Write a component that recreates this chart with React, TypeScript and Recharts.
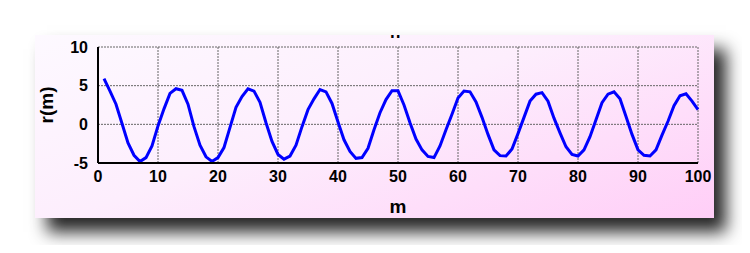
import { LineChart, Line, XAxis, YAxis, CartesianGrid } from "recharts";

// r(m) values, m = 1..100
const mValues = Array.from({ length: 100 }, (_, i) => i + 1);
const rValues = [
  5.9, 4.3, 2.6, 0.1, -2.4, -4.0, -4.8, -4.3, -2.8, -0.2,
  2.0, 4.0, 4.6, 4.4, 2.6, -0.3, -2.7, -4.2, -4.8, -4.3,
  -3.0, -0.4, 2.2, 3.6, 4.6, 4.3, 2.85, 0.2, -2.2, -3.9,
  -4.5, -4.1, -2.7, -0.3, 1.9, 3.3, 4.5, 4.2, 2.7, 0.3,
  -2.0, -3.5, -4.4, -4.3, -3.1, -0.7, 1.5, 3.2, 4.35, 4.35,
  2.5, 0.2, -1.9, -3.3, -4.15, -4.3, -2.8, -0.7, 1.3, 3.4,
  4.3, 4.2, 2.9, 0.9, -1.3, -3.3, -4.05, -4.1, -3.2, -1.2,
  0.9, 3.0, 3.9, 4.1, 3.0, 0.8, -1.1, -2.9, -3.9, -4.1,
  -3.3, -1.6, 0.6, 2.8, 3.9, 4.2, 3.3, 1.0, -1.3, -3.3,
  -4.0, -4.1, -3.3, -1.4, 0.4, 2.4, 3.7, 3.95, 3.0, 1.9,
];
const xTicks = [0, 10, 20, 30, 40, 50, 60, 70, 80, 90, 100];
const yTicks = [-5, 0, 5, 10];

const data = mValues.map((m, i) => ({ m, r: rValues[i] }));

const tickStyle = {
  fill: "#000",
  fontSize: 16,
  fontWeight: 700,
  fontFamily: "Liberation Sans, Arial, sans-serif",
};

export default function App() {
  return (
    <div style={{ position: "relative", width: 750, height: 253, margin: -8, background: "#fff" }}>
      <div
        style={{
          position: "absolute",
          left: 35,
          top: 35,
          width: 679,
          height: 183,
          overflow: "hidden",
          background: "linear-gradient(160deg, #fdf9ff 0%, #fdeefd 45%, #ffcef7 100%)",
          boxShadow: "12px 14px 16px rgba(0,0,0,0.85)",
        }}
      >
        <div
          style={{
            position: "absolute",
            left: 355,
            top: -12,
            fontFamily: "Liberation Sans, Arial, sans-serif",
            fontWeight: 700,
            fontSize: 17,
          }}
        >
          n
        </div>
        <LineChart
          width={679}
          height={183}
          data={data}
          margin={{ top: 12, right: 16, bottom: 25, left: 20 }}
        >
          <CartesianGrid stroke="#666" strokeDasharray="2 1" strokeWidth={1} />
          <XAxis
            dataKey="m"
            type="number"
            domain={[0, 100]}
            ticks={xTicks}
            tickLine={false}
            axisLine={{ stroke: "#000", strokeWidth: 2 }}
            tick={tickStyle}
            tickMargin={2}
            height={30}
            label={{
              value: "m",
              position: "insideBottom",
              offset: -20,
              style: { ...tickStyle, fontSize: 19 },
            }}
          />
          <XAxis
            xAxisId="top"
            orientation="top"
            dataKey="m"
            type="number"
            domain={[0, 100]}
            tick={false}
            tickLine={false}
            height={0}
            axisLine={{ stroke: "#000", strokeWidth: 2 }}
          />
          <YAxis
            type="number"
            domain={[-5, 10]}
            ticks={yTicks}
            tickLine={false}
            axisLine={{ stroke: "#000", strokeWidth: 2 }}
            tick={tickStyle}
            tickMargin={4}
            width={43}
            label={{
              value: "r(m)",
              angle: -90,
              position: "insideLeft",
              offset: -9,
              style: { ...tickStyle, fontSize: 19, textAnchor: "middle" },
            }}
          />
          <YAxis
            yAxisId="right"
            orientation="right"
            domain={[-5, 10]}
            tick={false}
            tickLine={false}
            width={0}
            axisLine={{ stroke: "#000", strokeWidth: 2 }}
          />
          <Line
            type="linear"
            dataKey="r"
            stroke="#0000ff"
            strokeWidth={3}
            dot={false}
            isAnimationActive={false}
          />
        </LineChart>
      </div>
    </div>
  );
}
